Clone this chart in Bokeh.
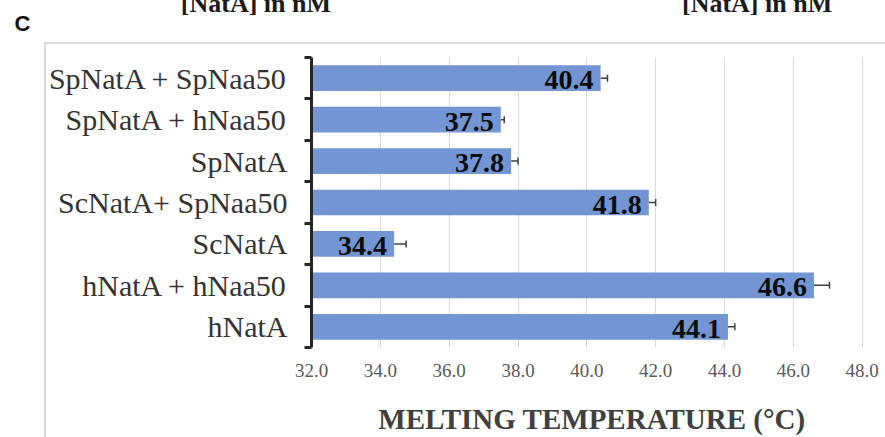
from bokeh.plotting import figure
from bokeh.models import (Range1d, FixedTicker, NumeralTickFormatter, Whisker, TeeHead,
                          Label, ColumnDataSource)
from bokeh.core.properties import value
from bokeh.embed import file_html
from bokeh.resources import INLINE

# ---- data (top to bottom as in the chart) ----
categories = ["SpNatA + SpNaa50", "SpNatA + hNaa50", "SpNatA", "ScNatA+ SpNaa50",
              "ScNatA", "hNatA + hNaa50", "hNatA"]
tm_values = [40.4, 37.5, 37.8, 41.8, 34.4, 46.6, 44.1]
tm_errors = [0.2, 0.1, 0.2, 0.2, 0.35, 0.45, 0.2]
x_ticks = [32.0, 34.0, 36.0, 38.0, 40.0, 42.0, 44.0, 46.0, 48.0]
x_title = "MELTING TEMPERATURE (°C)"
panel_letter = "C"
top_texts = ["[NatA] in nM", "[NatA] in nM"]

n = len(categories)
ypos = [n - 1 - i for i in range(n)]
bounds = [k - 0.5 for k in range(n + 1)]

src = ColumnDataSource(dict(
    y=ypos,
    v=tm_values,
    ve=[v + e for v, e in zip(tm_values, tm_errors)],
    lbl=[f"{v:.1f}" for v in tm_values],
))

p = figure(width=885, height=437, output_backend="svg", toolbar_location=None,
           x_range=Range1d(x_ticks[0], 48.3), y_range=Range1d(-0.5, n - 0.5),
           min_border_left=311, min_border_right=13, min_border_top=57, min_border_bottom=89)
p.outline_line_color = None
p.background_fill_color = "white"
p.border_fill_color = None
# light grey outer chart border (left and top edges visible)
p.styles = {
    "background": ("linear-gradient(#d9d9d9, #d9d9d9) 44px 42px / 2px 1000px no-repeat, "
                   "linear-gradient(#d9d9d9, #d9d9d9) 44px 42px / 1000px 2px no-repeat, "
                   "#ffffff"),
}

# bars
p.hbar(y="y", left=x_ticks[0], right="v", height=0.62, source=src,
       fill_color="#7395d3", line_color=None)

# error bars (plus direction)
p.add_layout(Whisker(source=src, base="y", lower="v", upper="ve", dimension="width",
                     lower_head=None,
                     upper_head=TeeHead(size=7, line_color="#404040", line_width=1.5),
                     line_color="#404040", line_width=1.5))

# value labels
p.text(x="v", y="y", text="lbl", source=src, x_offset=-7, y_offset=2,
       text_align="right", text_baseline="middle",
       text_font=value("Liberation Serif"), text_font_style="bold",
       text_font_size="28px", text_color="#0d0d0d")

# x axis
xa = p.xaxis[0]
xa.ticker = FixedTicker(ticks=x_ticks)
xa.formatter = NumeralTickFormatter(format="0.0")
xa.axis_line_color = None
xa.major_tick_line_color = None
xa.minor_tick_line_color = None
xa.major_tick_out = 0
xa.major_tick_in = 0
xa.major_label_standoff = 16
xa.major_label_text_font = "Liberation Serif"
xa.major_label_text_font_size = "19px"
xa.major_label_text_color = "#595959"
xa.axis_label = x_title
xa.axis_label_text_font = "Liberation Serif"
xa.axis_label_text_font_style = "bold"
xa.axis_label_text_font_size = "29px"
xa.axis_label_text_color = "#404040"
xa.axis_label_standoff = 23

# y axis (labels centred on bars, tick marks between categories)
ya = p.yaxis[0]
ya.ticker = FixedTicker(ticks=ypos, minor_ticks=bounds)
ya.major_label_overrides = {y: c for y, c in zip(ypos, categories)}
ya.major_tick_line_color = None
ya.major_tick_out = 0
ya.major_tick_in = 0
ya.minor_tick_line_color = "#262626"
ya.minor_tick_line_width = 3
ya.minor_tick_out = 7
ya.minor_tick_in = 0
ya.axis_line_color = "#262626"
ya.axis_line_width = 3
ya.major_label_standoff = 17
ya.major_label_text_font = "Liberation Serif"
ya.major_label_text_font_size = "30px"
ya.major_label_text_color = "#333333"

# grid
p.ygrid.grid_line_color = None
p.xgrid.grid_line_color = "#d9d9d9"
p.xgrid.grid_line_width = 1

# panel letter (left side panel) and the cut-off headings (top side panel)
p.add_layout(Label(x=22, y=23, x_units="canvas", y_units="canvas", text=panel_letter,
                   text_font="Liberation Sans", text_font_style="bold",
                   text_font_size="22px", text_align="center", text_baseline="middle",
                   text_color="#111111"), "left")
heading = top_texts[0] + "\u00a0" * 54 + top_texts[1]
p.add_layout(Label(x=506, y=3, x_units="canvas", y_units="canvas", text=heading,
                   text_font="Liberation Serif", text_font_style="bold",
                   text_font_size="26px", text_align="center",
                   text_baseline="middle", text_color="#1a1a1a"), "above")

open("out.html", "w").write(file_html(p, INLINE))
